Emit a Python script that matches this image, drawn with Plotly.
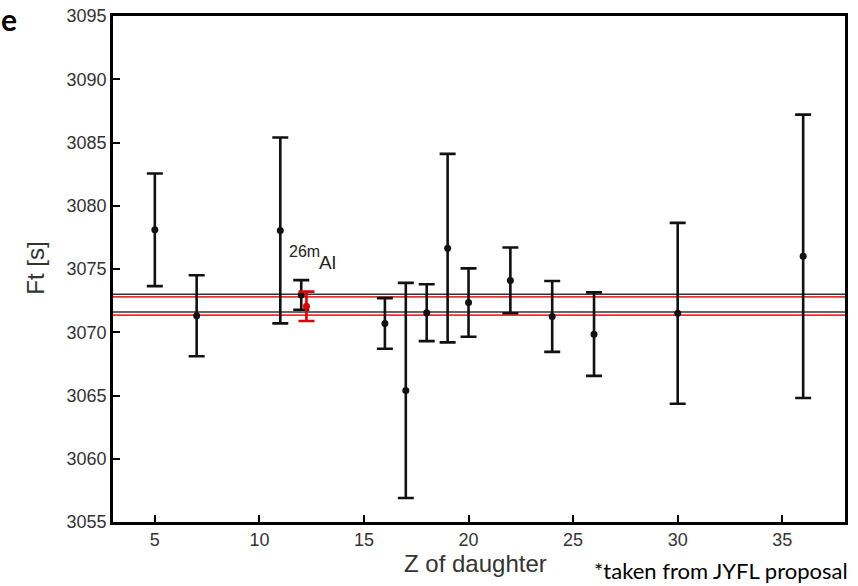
import plotly.graph_objects as go

# ---- data ----
z_daughter = [5, 7, 11, 12, 16, 17, 18, 19, 20, 22, 24, 26, 30, 36]
ft_values = [3078.1, 3071.3, 3078.05, 3072.95, 3070.7, 3065.4, 3071.55,
             3076.65, 3072.35, 3074.1, 3071.25, 3069.85, 3071.5, 3076.0]
ft_errors = [4.45, 3.2, 7.35, 1.17, 2.0, 8.5, 2.25, 7.45, 2.7, 2.6, 2.8,
             3.3, 7.15, 11.2]

al26_z = [12.25]
al26_ft = [3072.05]
al26_err = [1.16]

band_black = [3071.6, 3073.0]
band_red = [3071.35, 3072.8]

x_ticks = [5, 10, 15, 20, 25, 30, 35]
y_ticks = [3055, 3060, 3065, 3070, 3075, 3080, 3085, 3090, 3095]
x_range = [3, 38]
y_range = [3055, 3095]

FONT = "Liberation Sans, Arial, sans-serif"

# plot-area geometry (pixels) used to place paper-referenced texts
W, H = 858, 586
L, R, T, B = 113, 13, 16, 64
PW, PH = W - L - R, H - T - B


def px_x(px):
    return (px - L) / PW


def px_y(py):
    return (H - B - py) / PH


fig = go.Figure()

# horizontal band lines
for yv in band_black:
    fig.add_shape(type="line", xref="paper", yref="y", x0=0, x1=1, y0=yv, y1=yv,
                  line=dict(color="#333333", width=1.5), layer="below")
for yv in band_red:
    fig.add_shape(type="line", xref="paper", yref="y", x0=0, x1=1, y0=yv, y1=yv,
                  line=dict(color="#ee3030", width=1.8), layer="below")

fig.add_trace(go.Scatter(
    x=z_daughter, y=ft_values, mode="markers",
    marker=dict(color="#111111", size=7),
    error_y=dict(type="data", array=ft_errors, visible=True,
                 color="#111111", thickness=2.6, width=8),
    showlegend=False,
))

fig.add_trace(go.Scatter(
    x=al26_z, y=al26_ft, mode="markers",
    marker=dict(color="#e00000", size=7),
    error_y=dict(type="data", array=al26_err, visible=True,
                 color="#e00000", thickness=2.6, width=8),
    showlegend=False,
))

# 26mAl label
fig.add_annotation(x=11.33, y=3076.4, xref="x", yref="y", text="26m",
                   showarrow=False, xanchor="left", yanchor="middle",
                   font=dict(family=FONT, size=16, color="#222222"))
fig.add_annotation(x=12.75, y=3075.5, xref="x", yref="y", text="Al",
                   showarrow=False, xanchor="left", yanchor="middle",
                   font=dict(family=FONT, size=19, color="#222222"))

# axis titles
fig.add_annotation(x=px_x(475), y=px_y(563.5), xref="paper", yref="paper",
                   text="Z of daughter", showarrow=False,
                   xanchor="center", yanchor="middle",
                   font=dict(family=FONT, size=24, color="#333333"))
fig.add_annotation(x=px_x(36), y=px_y(268.7), xref="paper", yref="paper",
                   text="Ft [s]", showarrow=False, textangle=-90,
                   xanchor="center", yanchor="middle",
                   font=dict(family=FONT, size=24, color="#333333"))

# slide fragments
fig.add_annotation(x=px_x(19), y=px_y(39), xref="paper", yref="paper",
                   text="<b>e</b>", showarrow=False, xanchor="right", yanchor="bottom",
                   font=dict(family="Lato, sans-serif", size=30, color="#000000"))
fig.add_annotation(x=px_x(592), y=px_y(586), xref="paper", yref="paper",
                   text="*taken from JYFL proposal", showarrow=False,
                   xanchor="left", yanchor="bottom",
                   font=dict(family="Lato, sans-serif", size=22, color="#000000"))

axis_common = dict(
    showgrid=False, zeroline=False, showline=True, mirror=True,
    linecolor="#000000", linewidth=2.6, automargin=False,
    ticks="inside", ticklen=7, tickwidth=1.5, tickcolor="#000000",
    tickfont=dict(family=FONT, size=18, color="#333333"),
)

fig.update_xaxes(range=x_range, tickvals=x_ticks, **axis_common)
fig.update_yaxes(range=y_range, tickvals=y_ticks, **axis_common)

fig.update_layout(
    width=W, height=H,
    margin=dict(l=L, r=R, t=T, b=B),
    paper_bgcolor="white", plot_bgcolor="white",
    template="none",
)

fig.write_html(
    "out.html",
    config={"displayModeBar": False},
    post_script="document.body.style.margin='0';document.body.style.overflow='hidden';",
)
